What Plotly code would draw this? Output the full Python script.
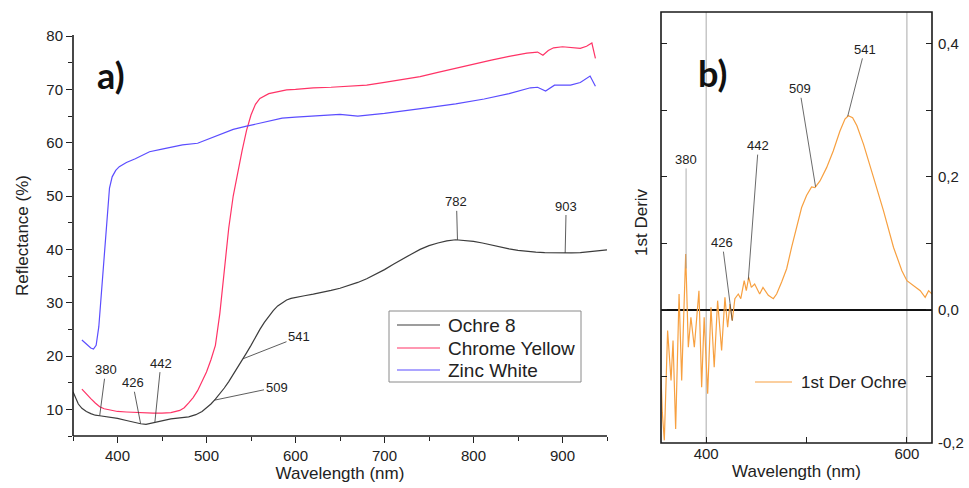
import numpy as np
import plotly.graph_objects as go

# ---------------- data ----------------
# Reflectance spectra (%) vs wavelength (nm)
ochre_wl = [350, 353, 356, 360, 365, 370, 375, 380, 390, 400, 410, 420, 426, 432, 442, 450,
            460, 470, 480, 488, 495, 500, 505, 510, 515, 520, 525, 530, 535, 540, 545, 550,
            555, 560, 565, 570, 575, 580, 585, 590, 595, 600, 610, 620, 630, 640, 650, 660,
            670, 680, 690, 700, 710, 720, 730, 740, 750, 760, 770, 780, 790, 800, 810, 820,
            830, 840, 850, 860, 870, 880, 890, 900, 910, 920, 930, 940, 950]
ochre_refl = [13.3, 12.2, 11.0, 10.2, 9.6, 9.2, 8.9, 8.8, 8.6, 8.3, 7.9, 7.5, 7.3, 7.2, 7.6, 7.9,
              8.2, 8.4, 8.6, 9.0, 9.6, 10.3, 11.0, 11.9, 12.9, 14.0, 15.2, 16.5, 17.9, 19.2, 20.6, 22.0,
              23.6, 25.0, 26.3, 27.5, 28.5, 29.4, 30.0, 30.5, 30.8, 31.0, 31.3, 31.6, 31.9, 32.3, 32.7, 33.2,
              33.8, 34.5, 35.3, 36.2, 37.2, 38.2, 39.1, 40.0, 40.7, 41.2, 41.6, 41.8, 41.7, 41.5, 41.2, 40.8,
              40.4, 40.1, 39.8, 39.6, 39.5, 39.4, 39.35, 39.3, 39.35, 39.4, 39.55, 39.7, 39.9]

chrome_wl = [360, 365, 370, 375, 380, 385, 390, 400, 410, 420, 430, 440, 450, 460, 470, 475,
             480, 485, 490, 495, 500, 505, 510, 515, 520, 525, 530, 535, 540, 545, 550, 555,
             560, 570, 580, 590, 600, 620, 640, 660, 680, 700, 720, 740, 760, 780, 800, 820,
             840, 860, 872, 878, 884, 890, 900, 910, 920, 927, 933, 937]
chrome_refl = [13.8, 12.8, 12.0, 11.2, 10.5, 10.1, 9.9, 9.6, 9.5, 9.4, 9.3, 9.3, 9.3, 9.4, 9.8, 10.3,
               11.2, 12.2, 13.5, 15.2, 17.0, 19.3, 22.0, 28.0, 36.0, 44.0, 50.0, 54.5, 58.5, 62.3, 65.2, 67.2,
               68.3, 69.2, 69.6, 69.9, 70.0, 70.3, 70.4, 70.6, 70.8, 71.3, 71.8, 72.4, 73.2, 74.0, 74.7, 75.5,
               76.2, 76.8, 77.0, 76.4, 77.3, 77.8, 78.0, 77.8, 77.7, 78.1, 78.7, 75.8]

zinc_wl = [360, 365, 370, 373, 376, 379, 382, 385, 388, 391, 394, 398, 402, 410, 420, 436,
           450, 473, 490, 506, 520, 530, 545, 560, 585, 600, 620, 650, 670, 700, 745, 780,
           812, 840, 864, 872, 881, 891, 909, 920, 931, 937]
zinc_refl = [23.0, 22.2, 21.5, 21.3, 22.0, 25.5, 32.0, 39.5, 46.5, 51.5, 53.6, 54.8, 55.5, 56.3, 57.0, 58.3,
             58.8, 59.6, 59.9, 60.9, 61.8, 62.5, 63.1, 63.7, 64.6, 64.8, 65.0, 65.3, 65.0, 65.5, 66.5, 67.3,
             68.2, 69.2, 70.3, 70.4, 69.7, 70.8, 70.8, 71.3, 72.5, 70.6]

# First derivative of the ochre spectrum
deriv_wl = [355, 356.3, 358.3, 361.6, 365, 367, 369.6, 373, 375.6, 379.6, 382.2, 384.8, 388.2, 392.8, 395.5, 398,
            401.5, 404.8, 408, 411.4, 415.4, 418.7, 421.4, 423.7, 426, 428.6, 432, 434.5, 437.9, 440, 442.4, 445,
            448.3, 453.3, 456.6, 461.9, 466.9, 470.2, 475.2, 480.2, 485.1, 490.1, 495.1, 500, 505, 508.4, 513.4, 520,
            526.6, 533.3, 538.3, 541.6, 545.9, 550.2, 556.8, 566.8, 576.7, 586.7, 595, 600, 606.6, 613.3, 618.2, 621.6,
            625]
deriv_val = [-0.10, -0.154, -0.196, -0.031, -0.106, -0.046, -0.179, 0.024, -0.106, 0.084, -0.056, -0.011, -0.056, 0.029, -0.116, -0.011,
             -0.126, 0.004, -0.086, 0.014, -0.061, 0.019, -0.026, 0.009, -0.016, 0.017, 0.024, 0.017, 0.044, 0.029, 0.049, 0.034,
             0.039, 0.024, 0.034, 0.022, 0.017, 0.024, 0.042, 0.062, 0.094, 0.124, 0.154, 0.172, 0.185, 0.184, 0.194, 0.214,
             0.239, 0.269, 0.287, 0.292, 0.289, 0.277, 0.249, 0.199, 0.149, 0.094, 0.059, 0.044, 0.037, 0.029, 0.019, 0.029,
             0.024]

series_names = ["Ochre 8", "Chrome Yellow", "Zinc White"]
series_colors = ["#3c3c3c", "#ff3366", "#5b4dff"]
deriv_name = "1st Der Ochre"
deriv_color = "#f7a040"

# Labelled features (nm)
refl_peaks = [380, 426, 442, 509, 541, 782, 903]
deriv_peaks = [380, 426, 442, 509, 541]
guide_wl = [400, 600]

deriv_ticks = [-0.2, 0.0, 0.2, 0.4]
deriv_minor = [-0.1, 0.1, 0.3]

# ---------------- styling ----------------
FONT = "Liberation Sans, Arial, sans-serif"
INK = "#222222"
W, H = 969, 488

# plot-area edges in pixels
A_L, A_R, A_T, A_B = 73, 607, 35, 436
B_L, B_R, B_T, B_B = 661, 932, 12, 443


def px_x(p):
    return p / W


def px_y(p):
    return 1 - p / H


fig = go.Figure()

spectra = [(ochre_wl, ochre_refl), (chrome_wl, chrome_refl), (zinc_wl, zinc_refl)]
for (wl, refl), name, color in zip(spectra, series_names, series_colors):
    fig.add_trace(go.Scatter(x=wl, y=refl, name=name, mode="lines", showlegend=False,
                             line=dict(color=color, width=1.2), xaxis="x", yaxis="y"))
fig.add_trace(go.Scatter(x=deriv_wl, y=deriv_val, name=deriv_name, mode="lines", showlegend=False,
                         line=dict(color=deriv_color, width=1.2), xaxis="x2", yaxis="y2"))

# pixel offsets of the peak labels from the curve point
refl_offsets = {380: (6, -46), 426: (-8, -41), 442: (6, -59), 509: (62, -13),
                541: (56, -22), 782: (-1, -38), 903: (1, -47)}
deriv_offsets = {380: (0, -109), 426: (-10, -78), 442: (10, -134), 509: (-16, -98), 541: (17, -67)}

annotations = []
for wl in refl_peaks:
    ax, ay = refl_offsets[wl]
    annotations.append(dict(x=wl, y=float(np.interp(wl, ochre_wl, ochre_refl)), xref="x", yref="y",
                            text=str(wl), showarrow=True, arrowhead=0, arrowwidth=0.8,
                            arrowcolor="#333", ax=ax, ay=ay,
                            font=dict(family=FONT, size=13, color=INK)))
for wl in deriv_peaks:
    ax, ay = deriv_offsets[wl]
    annotations.append(dict(x=wl, y=float(np.interp(wl, deriv_wl, deriv_val)), xref="x2", yref="y2",
                            text=str(wl), showarrow=True, arrowhead=0, arrowwidth=0.8,
                            arrowcolor="#444" if wl != 380 else "#999", ax=ax, ay=ay,
                            font=dict(family=FONT, size=13, color=INK)))

PANEL_FONT = dict(family="Lato, sans-serif", size=36, color="#111")
annotations += [
    dict(text="<b>a)</b>", x=px_x(111), y=px_y(75), xref="paper", yref="paper", showarrow=False,
         xanchor="center", yanchor="middle", font=PANEL_FONT),
    dict(text="<b>b)</b>", x=px_x(712), y=px_y(73), xref="paper", yref="paper", showarrow=False,
         xanchor="center", yanchor="middle", font=PANEL_FONT),
    dict(text="1st Deriv", x=px_x(641), y=px_y(222), xref="paper", yref="paper", showarrow=False,
         xanchor="center", yanchor="middle", textangle=-90,
         font=dict(family=FONT, size=17, color=INK)),
]

# axis frames: open L for a), closed box for b)
AX_LINE = dict(color="#1a1a1a", width=1.6)
shapes = [dict(type="line", xref="x2", yref="y2 domain", x0=wl, x1=wl, y0=0, y1=1,
               line=dict(color="#aaaaaa", width=1), layer="below") for wl in guide_wl]
shapes += [
    dict(type="line", xref="paper", yref="paper", x0=px_x(A_L), x1=px_x(A_R),
         y0=px_y(A_B), y1=px_y(A_B), line=AX_LINE),
    dict(type="line", xref="paper", yref="paper", x0=px_x(A_L), x1=px_x(A_L),
         y0=px_y(A_B), y1=px_y(A_T), line=AX_LINE),
    dict(type="rect", xref="paper", yref="paper", x0=px_x(B_L), x1=px_x(B_R),
         y0=px_y(B_B), y1=px_y(B_T), line=AX_LINE),
]

# legend for a): framed box with line samples
leg_rows = [325, 348, 370]
shapes.append(dict(type="rect", xref="paper", yref="paper", x0=px_x(389), x1=px_x(581),
                   y0=px_y(382), y1=px_y(311), line=dict(color="#8a8a8a", width=1), fillcolor="white"))
for name, color, row in zip(series_names, series_colors, leg_rows):
    shapes.append(dict(type="line", xref="paper", yref="paper", x0=px_x(397), x1=px_x(440),
                       y0=px_y(row), y1=px_y(row), line=dict(color=color, width=1.2)))
    annotations.append(dict(text=name, x=px_x(446), y=px_y(row), xref="paper", yref="paper",
                            xanchor="left", yanchor="middle", showarrow=False,
                            font=dict(family=FONT, size=19, color=INK)))

# legend for b)
shapes.append(dict(type="line", xref="paper", yref="paper", x0=px_x(755), x1=px_x(792),
                   y0=px_y(382), y1=px_y(382), line=dict(color=deriv_color, width=1.2)))
annotations.append(dict(text=deriv_name, x=px_x(799), y=px_y(382), xref="paper", yref="paper",
                        xanchor="left", yanchor="middle", showarrow=False,
                        font=dict(family=FONT, size=17, color=INK)))

axis_common = dict(showgrid=False, showline=False, automargin=False,
                   tickcolor=INK, tickwidth=1.2, tickfont=dict(family=FONT, size=15, color=INK))

fig.update_layout(
    width=W, height=H, margin=dict(l=0, r=0, t=0, b=0, autoexpand=False),
    paper_bgcolor="white", plot_bgcolor="white",
    font=dict(family=FONT, color=INK),
    showlegend=False,
    xaxis=dict(domain=[px_x(A_L), px_x(A_R)], range=[350, 950], anchor="y", zeroline=False,
               ticks="outside", ticklen=6, dtick=100, tick0=0,
               minor=dict(ticks="outside", ticklen=4, dtick=50, tick0=0, tickcolor=INK, tickwidth=1.2),
               title=dict(text="Wavelength (nm)", font=dict(family=FONT, size=17, color=INK), standoff=4),
               **axis_common),
    yaxis=dict(domain=[px_y(A_B), px_y(A_T)], range=[5, 80.2], anchor="x", zeroline=False,
               ticks="outside", ticklen=6, dtick=10, tick0=0,
               minor=dict(ticks="outside", ticklen=4, dtick=5, tick0=0, tickcolor=INK, tickwidth=1.2),
               title=dict(text="Reflectance (%)", font=dict(family=FONT, size=17, color=INK), standoff=13),
               **axis_common),
    xaxis2=dict(domain=[px_x(B_L), px_x(B_R)], range=[355, 625], anchor="y2", zeroline=False,
                ticks="inside", ticklen=6,
                tickvals=[400, 500, 600], ticktext=["400", "", "600"],
                title=dict(text="Wavelength (nm)", font=dict(family=FONT, size=17, color=INK), standoff=4),
                **axis_common),
    yaxis2=dict(domain=[px_y(B_B), px_y(B_T)], range=[-0.2, 0.448], anchor="x2", side="right",
                mirror="ticks", ticks="inside", ticklen=6, ticklabelstandoff=5,
                tickvals=deriv_ticks, ticktext=[f"{v:.1f}".replace(".", ",") for v in deriv_ticks],
                minor=dict(ticks="inside", ticklen=6, tickvals=deriv_minor, tickcolor=INK, tickwidth=1.2),
                zeroline=True, zerolinecolor="#111", zerolinewidth=1.6,
                **axis_common),
    annotations=annotations,
    shapes=shapes,
)

fig.write_html("out.html")
